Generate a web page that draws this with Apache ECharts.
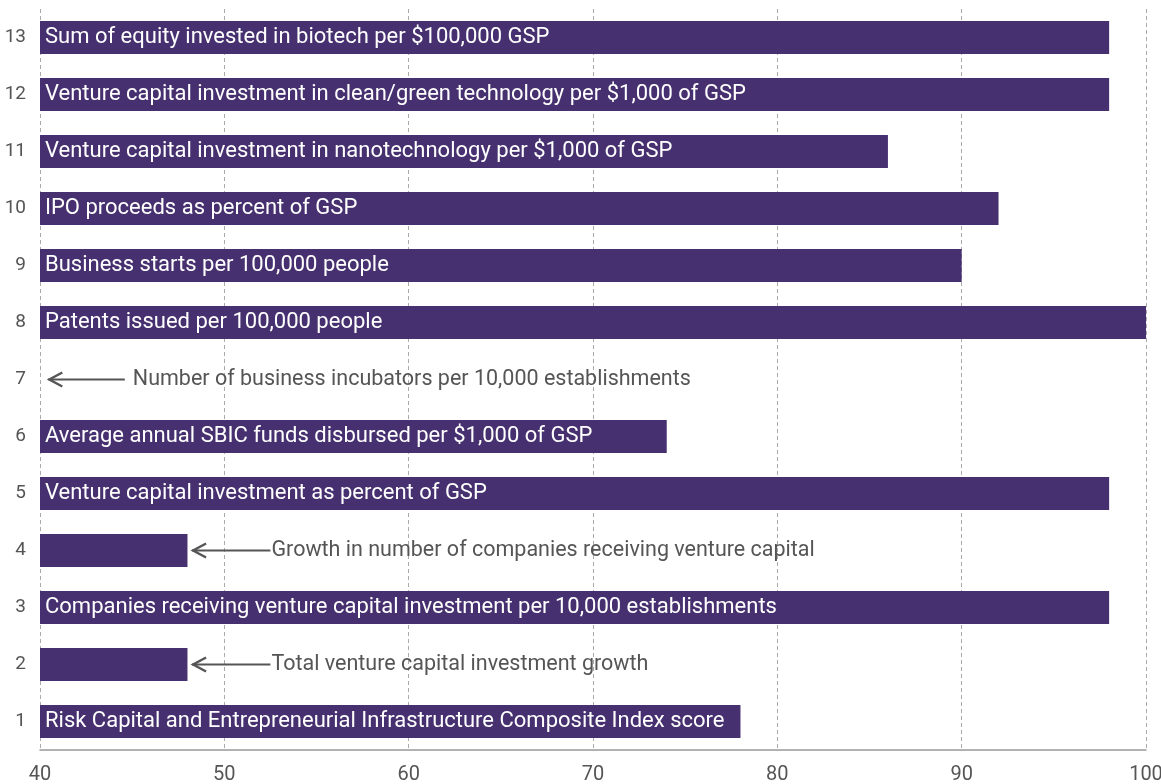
<!DOCTYPE html>
<html>
<head>
<meta charset="utf-8">
<script src="https://cdn.jsdelivr.net/npm/echarts@6/dist/echarts.min.js"></script>
<style>
  html, body { margin: 0; padding: 0; background: #fff; }
  #chart { width: 1161px; height: 784px; }
</style>
</head>
<body>
<div id="chart"></div>
<script>
// rows, bottom to top
const categories = ["1", "2", "3", "4", "5", "6", "7", "8", "9", "10", "11", "12", "13"];
const scores = [78, 48, 98, 48, 98, 74, null, 100, 90, 92, 86, 98, 98];
const barLabels = [
  "Risk Capital and Entrepreneurial Infrastructure Composite Index score",
  "",
  "Companies receiving venture capital investment per 10,000 establishments",
  "",
  "Venture capital investment as percent of GSP",
  "Average annual SBIC funds disbursed per $1,000 of GSP",
  "",
  "Patents issued per 100,000 people",
  "Business starts per 100,000 people",
  "IPO proceeds as percent of GSP",
  "Venture capital investment in nanotechnology per $1,000 of GSP",
  "Venture capital investment in clean/green technology per $1,000 of GSP",
  "Sum of equity invested in biotech per $100,000 GSP"
];
const xTicks = [40, 50, 60, 70, 80, 90, 100];

// callouts for rows whose bar is too short (or missing) for an inside label
const noteRows = ["2", "4", "7"];
const noteHead = [48.25, 48.25, 40.45];
const noteTail = [52.5, 52.5, 44.6];
const noteTexts = [
  "Total venture capital investment growth",
  "Growth in number of companies receiving venture capital",
  "Number of business incubators per 10,000 establishments"
];
const noteGap = [1, 1, 8];

const gray = "#555555";
const purple = "#46306f";
const font = "Roboto";

const chart = echarts.init(document.getElementById("chart"));

const option = {
  animation: false,
  textStyle: { fontFamily: font },
  grid: { left: 40, right: 15, top: 9, bottom: 34, outerBoundsMode: "none" },
  xAxis: {
    type: "value",
    min: 40,
    max: 100,
    interval: 10,
    axisLine: { show: true, lineStyle: { color: "#999", width: 1.5 } },
    axisTick: { show: false },
    axisLabel: {
      color: gray, fontSize: 20, margin: 15, fontFamily: font,
      formatter: (v) => (xTicks.indexOf(v) >= 0 ? String(v) : "")
    },
    splitLine: { show: true, lineStyle: { color: "#aaa", type: [4, 3], width: 1 } }
  },
  yAxis: {
    type: "category",
    data: categories,
    axisLine: { show: false },
    axisTick: { show: false },
    axisLabel: { color: gray, fontSize: 19, margin: 14, fontFamily: font }
  },
  series: [
    {
      type: "bar",
      data: scores,
      barWidth: 33,
      itemStyle: { color: purple },
      label: {
        show: true,
        position: "insideLeft",
        distance: 5,
        color: "#fff",
        fontSize: 22,
        fontFamily: font,
        formatter: (p) => barLabels[p.dataIndex]
      }
    },
    {
      type: "custom",
      data: noteRows.map((r, i) => [noteHead[i], r, noteTail[i], i]),
      encode: { x: 0, y: 1 },
      silent: true,
      renderItem: function (params, api) {
        const i = api.value(3);
        const head = api.coord([api.value(0), api.value(1)]);
        const tail = api.coord([api.value(2), api.value(1)]);
        const y = head[1];
        return {
          type: "group",
          children: [
            {
              type: "line",
              shape: { x1: head[0], y1: y, x2: tail[0], y2: y },
              style: { stroke: gray, lineWidth: 2 }
            },
            {
              type: "polyline",
              shape: { points: [[head[0] + 14, y - 7], [head[0] + 1, y], [head[0] + 14, y + 7]] },
              style: { stroke: gray, lineWidth: 2.4, fill: null }
            },
            {
              type: "text",
              x: tail[0] + noteGap[i],
              y: y,
              style: {
                text: noteTexts[i],
                fill: gray,
                fontSize: 21.5,
                fontFamily: font,
                align: "left",
                verticalAlign: "middle"
              }
            }
          ]
        };
      }
    }
  ]
};

chart.setOption(option);
</script>
</body>
</html>
